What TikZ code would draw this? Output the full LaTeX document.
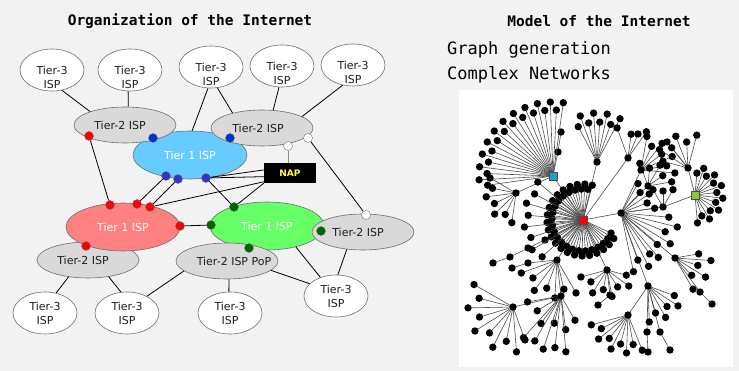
\documentclass[tikz,border=0pt]{standalone}
\usepackage{fontspec}
\newfontfamily\vsans{DejaVu Sans}
\newfontfamily\vmono{DejaVu Sans Mono}
\usetikzlibrary{shapes.geometric,calc}

\definecolor{bg}{HTML}{F2F2F2}
\definecolor{tiertwo}{HTML}{D9D9D9}
\definecolor{tierblue}{HTML}{66CCFF}
\definecolor{tierred}{HTML}{FF8080}
\definecolor{tiergreen}{HTML}{66FF66}
\definecolor{dotblue}{HTML}{0033CC}
\definecolor{dotbluel}{HTML}{3333CC}
\definecolor{dotgreen}{HTML}{006600}
\definecolor{outline}{HTML}{6E6E6E}
\definecolor{hubcyan}{HTML}{1EA0C8}
\definecolor{hubgreen}{HTML}{8CC63F}
\definecolor{napyellow}{HTML}{FFFF33}

% fan of leaves around a hub: hub, first angle, last angle, count, radius, radius step
\newcommand\fan[6]{%
  \foreach \k in {1,...,#4}{%
    \pgfmathsetmacro\fanang{#2+(#3-#2)*(\k-1)/max(#4-1,1)}%
    \pgfmathsetmacro\fanrad{#5+#6*mod(\k,2)}%
    \draw[gedge] (#1) -- ++({\fanrad*cos(\fanang)},{-\fanrad*sin(\fanang)}) node[leaf]{};
  }%
}

\begin{document}
\begin{tikzpicture}[x=1pt,y=-1pt,
  isp/.style={ellipse, draw=outline, line width=0.6pt, inner sep=0pt},
  tthree/.style={isp, fill=white, minimum width=64pt, minimum height=42pt},
  ttwo/.style={isp, fill=tiertwo, minimum width=102pt, minimum height=36pt},
  tone/.style={isp, minimum width=114pt, minimum height=48pt},
  lab/.style={align=center, inner sep=0pt, font=\vsans\fontsize{11}{14}\selectfont, text=black!88},
  wlab/.style={lab, text=white},
  dot/.style={circle, minimum size=9pt, inner sep=0pt, draw=black!55, line width=0.4pt},
  link/.style={draw=black, line width=0.8pt},
  glink/.style={draw=black!45, line width=0.8pt},
  gedge/.style={draw=black!70, line width=0.6pt},
  leaf/.style={circle, fill=black, minimum size=7.4pt, inner sep=0pt},
  hub/.style={rectangle, draw=black!70, line width=0.4pt, minimum size=7.5pt, inner sep=0pt},
  ttl/.style={font=\vmono\bfseries\fontsize{14.5}{16}\selectfont},
  big/.style={anchor=west, inner sep=0pt, font=\vmono\fontsize{17}{19}\selectfont}
]
\fill[bg] (0,0) rectangle (739,371);
\useasboundingbox (0,0) rectangle (739,371);

% ---------------- titles ----------------
\node[ttl] (orgtitle) at (190,21) {Organization of the Internet};
\node[ttl] (modtitle) at (599,21) {Model of the Internet};
\node[big] (graphgen) at (447,50) {Graph generation};
\node[big] (complex) at (447,75) {Complex Networks};

% ---------------- ISP hierarchy ----------------
% tier-1 backbone (blue) sits under the tier-2 ISPs
\node[tone, fill=tierblue] (tblue) at (190,155) {};
\node[ttwo] (ttwoL) at (125,125) {};
\node[ttwo] (ttwoR) at (262,128) {};
% red backbone over its tier-2 customer
\node[ttwo] (ttwoBL) at (88,260) {};
\node[tone, fill=tierred] (tred) at (123,227) {};
% green backbone under the PoP and the right tier-2
\node[tone, fill=tiergreen] (tgreen) at (267,226) {};
\node[ttwo] (pop) at (227,261) {};
\node[ttwo] (ttwoRM) at (363,232) {};

% tier-3 ISPs
\node[tthree] (tA) at (52,70) {};
\node[tthree] (tB) at (130,70) {};
\node[tthree] (tC) at (211,67) {};
\node[tthree] (tD) at (282,66) {};
\node[tthree] (tE) at (353,65) {};
\node[tthree] (tF) at (45,313) {};
\node[tthree] (tG) at (127,313) {};
\node[tthree] (tH) at (230,313) {};
\node[tthree] (tI) at (336,296) {};

% labels
\node[lab] (tAl) at ($(tA)+(0,7)$) {Tier-3\\ISP};
\node[lab] (tBl) at ($(tB)+(0,7)$) {Tier-3\\ISP};
\node[lab] (tCl) at ($(tC)+(0,7)$) {Tier-3\\ISP};
\node[lab] (tDl) at ($(tD)+(0,7)$) {Tier-3\\ISP};
\node[lab] (tEl) at ($(tE)+(0,7)$) {Tier-3\\ISP};
\node[lab] (tFl) at (tF) {Tier-3\\ISP};
\node[lab] (tGl) at (tG) {Tier-3\\ISP};
\node[lab] (tHl) at (tH) {Tier-3\\ISP};
\node[lab] (tIl) at (tI) {Tier-3\\ISP};
\node[lab] (ttwoLl) at ($(ttwoL)+(-5,0)$) {Tier-2 ISP};
\node[lab] (ttwoRl) at ($(ttwoR)+(-4,0)$) {Tier-2 ISP};
\node[lab] (ttwoBLl) at ($(ttwoBL)+(-5,0)$) {Tier-2 ISP};
\node[lab] (ttwoRMl) at ($(ttwoRM)+(-5,0)$) {Tier-2 ISP};
\node[lab] (popl) at ($(pop)+(7,0)$) {Tier-2 ISP PoP};
\node[wlab] (tbluel) at (tblue) {Tier 1 ISP};
\node[wlab] (tredl) at (tred) {Tier 1 ISP};
\node[wlab] (tgreenl) at (tgreen) {Tier 1 ISP};

% network access point
\node[fill=black, minimum width=52pt, minimum height=20pt, inner sep=0pt,
      text=napyellow, font=\vsans\bfseries\fontsize{9}{10}\selectfont] (nap) at (290,173) {NAP};

% customer links
\draw[link] (tA.-64) -- (ttwoL.159);
\draw[link] (tB.-95) -- (ttwoL.80);
\draw[link] (tC.-98) -- (tblue.85);
\draw[link] (tC.-73) -- (ttwoR.153);
\draw[link] (tD.-98) -- (ttwoR.58);
\draw[link] (tE.-117) -- (ttwoR.16);
\draw[link] (ttwoBL.-139) -- (tF.61);
\draw[link] (ttwoBL.-39) -- (tG.106);
\draw[link] (pop.-167) -- (tG.40);
\draw[link] (pop.-84) -- (tH.93);
\draw[link] (pop.-12) -- (tI.155);
\draw[link] (tgreen.-36) -- (tI.130);
\draw[link] (ttwoRM.-133) -- (tI.85);

% peering points
\node[dot, fill=red] (rA) at (89,136) {};
\node[dot, fill=dotblue] (bA) at (153,138) {};
\node[dot, fill=dotblue] (bB) at (230,138) {};
\node[dot, fill=white] (wA) at (288,146) {};
\node[dot, fill=white] (wB) at (308,138) {};
\node[dot, fill=dotbluel] (bC) at (166,176) {};
\node[dot, fill=dotbluel] (bD) at (178,179) {};
\node[dot, fill=dotbluel] (bE) at (206,178) {};
\node[dot, fill=red] (rB) at (110,205) {};
\node[dot, fill=red] (rC) at (137,204) {};
\node[dot, fill=red] (rD) at (150,207) {};
\node[dot, fill=red] (rE) at (180,226) {};
\node[dot, fill=red] (rF) at (86,246) {};
\node[dot, fill=dotgreen] (gA) at (211,225) {};
\node[dot, fill=dotgreen] (gB) at (234,207) {};
\node[dot, fill=dotgreen] (gC) at (249,248) {};
\node[dot, fill=dotgreen] (gD) at (321,231) {};
\node[dot, fill=white] (wC) at (366,215) {};

\draw[link] (rA) -- (rB);
\draw[link] (bC) -- (rC);
\draw[link] (bD) -- (rD);
\draw[link] (bE) -- (gB);
\draw[link] (rE) -- (gA);
\draw[link] (wB) -- (wC);
\draw[glink] (wA) -- (nap.north -| wA);
\draw[link] (bE) -- ($(nap.north west)!0.35!(nap.south west)$);
\draw[link] (bE) -- ($(nap.north west)!0.68!(nap.south west)$);
\draw[link] (rD) -- ($(nap.north west)!0.93!(nap.south west)$);
\draw[link] (gB) -- (nap.south west);

% ---------------- generated graph ----------------
\fill[white] (459,90) rectangle (733,367);

\coordinate (R) at (583,220);
\coordinate (C) at (553,176);
\coordinate (G) at (695,195);
\coordinate (L1) at (516,193);
\coordinate (H1) at (621,213);
\coordinate (M) at (663,207);
\coordinate (K) at (648,186);
\coordinate (G2) at (688,168);
\coordinate (U) at (597,162);
\coordinate (U2) at (628,158);
\coordinate (U3) at (641,170);
\coordinate (E1) at (675,258);
\coordinate (D1) at (648,286);
\coordinate (D2) at (628,315);
\coordinate (LM) at (607,270);
\coordinate (LL1) at (557,260);
\coordinate (LL2) at (561,296);
\coordinate (LL3) at (513,307);

% hub-to-hub edges
\foreach \a/\b in {R/C, R/H1, R/U, R/U2, R/LM, R/LL1, H1/U3, H1/K, H1/M, M/G, G/G2,
                   H1/E1, H1/D1, D1/D2, LL1/LL2, LL2/LL3, C/L1}
  \draw[gedge] (\a) -- (\b);

% chains of leaves
\draw[gedge] (R) -- (545,240) node[leaf]{} -- (528,248) node[leaf]{}
             -- (510,257) node[leaf]{} -- (493,263) node[leaf]{};
\draw[gedge] (LL1) -- (528,263) node[leaf]{} -- (512,268) node[leaf]{};
\draw[gedge] (D1) -- (647,332) node[leaf]{} -- (648,352) node[leaf]{};
\draw[gedge] (D1) -- (660,332) node[leaf]{} -- (670,350) node[leaf]{};
\draw[gedge] (C) -- (558,152) node[leaf]{} -- (561,132) node[leaf]{};
\draw[gedge] (U2) -- (638,134) node[leaf]{};
\draw[gedge] (G2) -- (667,142) node[leaf]{};
\draw[gedge] (E1) -- (700,292) node[leaf]{} -- (712,304) node[leaf]{};
\draw[gedge] (LM) -- (610,295) node[leaf]{} -- (598,305) node[leaf]{};

% leaf fans
\fan{R}{75}{335}{44}{31}{5}
\fan{R}{140}{222}{8}{55}{4}
\fan{C}{82}{188}{22}{66}{8}
\fan{L1}{150}{262}{7}{24}{6}
\fan{U}{62}{118}{8}{40}{9}
\fan{U2}{55}{110}{3}{24}{8}
\fan{U3}{-5}{80}{7}{26}{8}
\fan{K}{10}{110}{5}{18}{6}
\fan{H1}{-50}{-5}{6}{48}{10}
\fan{H1}{-78}{-55}{4}{50}{10}
\fan{H1}{8}{60}{5}{28}{6}
\fan{M}{60}{120}{3}{16}{4}
\fan{G}{-85}{85}{14}{22}{6}
\fan{G2}{75}{165}{6}{26}{8}
\fan{E1}{-60}{10}{6}{24}{12}
\fan{D1}{-88}{-20}{6}{28}{8}
\fan{D2}{195}{292}{9}{30}{8}
\fan{LM}{195}{345}{8}{20}{7}
\fan{LL1}{200}{300}{7}{30}{8}
\fan{LL2}{190}{300}{6}{28}{6}
\fan{LL2}{228}{275}{5}{52}{4}
\fan{LL3}{150}{290}{10}{35}{10}

% hub markers
\foreach \h in {L1,H1,M,K,G2,U,U2,U3,E1,D1,D2,LM,LL1,LL2,LL3}
  \node[leaf] at (\h) {};
\node[hub, fill=red] (Rhub) at (R) {};
\node[hub, fill=hubcyan] (Chub) at (C) {};
\node[hub, fill=hubgreen] (Ghub) at (G) {};
\end{tikzpicture}
\end{document}
